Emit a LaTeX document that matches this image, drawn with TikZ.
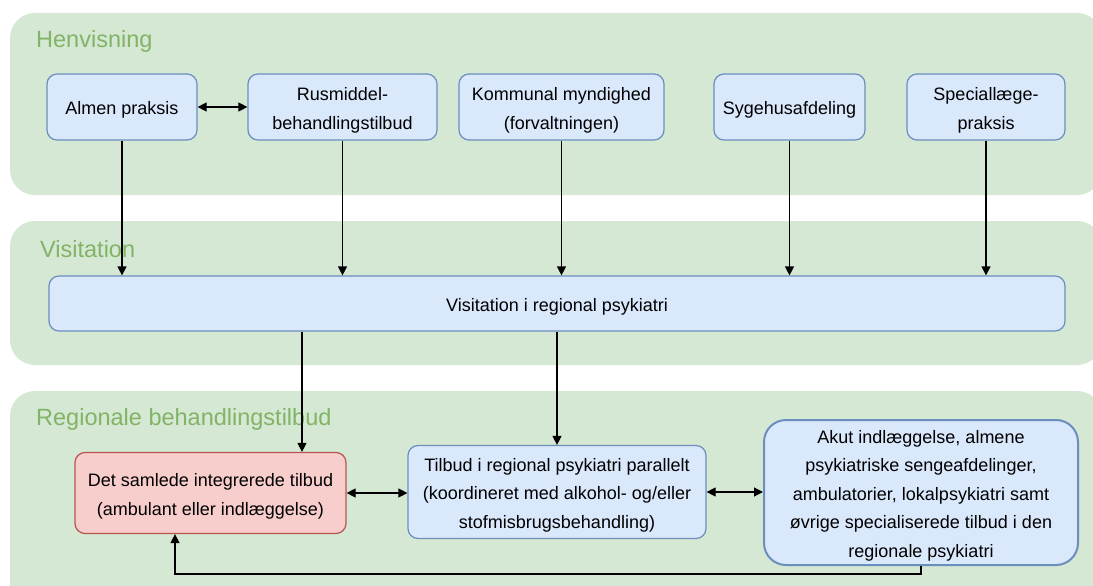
\documentclass[tikz,border=0pt]{standalone}
\usepackage{fontspec}
\setmainfont{Liberation Sans}
\usetikzlibrary{arrows.meta}
\definecolor{panelfill}{HTML}{D5E8D4}
\definecolor{paneltext}{HTML}{82B366}
\definecolor{bluefill}{HTML}{DAE8FC}
\definecolor{bluedraw}{HTML}{6C8EBF}
\definecolor{redfill}{HTML}{F8CECC}
\definecolor{reddraw}{HTML}{B85450}
\newcommand{\tstrut}{\rule{0pt}{20pt}}
\newcommand{\bstrut}{\rule[-4.5pt]{0pt}{4.5pt}}
\begin{document}
\begin{tikzpicture}[x=1pt,y=-1pt,
  panel/.style={fill=panelfill, draw=none, rounded corners=25pt},
  lane/.style={text=paneltext, font=\fontsize{23.5}{28}\selectfont, anchor=base west, inner sep=0pt},
  box/.style={draw=bluedraw, fill=bluefill, rounded corners=10pt, line width=1.2pt, align=center,
    font=\fontsize{18}{28.5}\selectfont, inner sep=0pt, minimum height=66pt},
  redbox/.style={box, draw=reddraw, fill=redfill},
  bigbox/.style={box, rounded corners=22pt, line width=2pt},
  arr/.style={-{Triangle[length=9pt,width=9pt]}, line width=1.2pt},
  darr/.style={{Triangle[length=9pt,width=9pt]}-{Triangle[length=9pt,width=9pt]}, line width=1.2pt}
]
\useasboundingbox (0,0) rectangle (1093,586);
% panels
\fill[panel] (10,13) rectangle (1102,195);
\fill[panel] (10,221) rectangle (1102,365);
\fill[panel] (10,391) rectangle (1102,620);
\node[lane] (lh) at (36,47.5) {Henvisning};
\node[lane] (lv) at (40,257) {Visitation};
\node[lane] (lr) at (36,425) {Regionale behandlingstilbud};
% top row
\node[box, minimum width=150pt] (almen) at (122,107) {\tstrut Almen praksis\bstrut};
\node[box, minimum width=189pt] (rus) at (342.5,107) {\tstrut Rusmiddel-\\behandlingstilbud\bstrut};
\node[box, minimum width=205pt] (kom) at (561.5,107) {\tstrut Kommunal myndighed\\(forvaltningen)\bstrut};
\node[box, minimum width=151pt] (syg) at (789.5,107) {\tstrut Sygehusafdeling\bstrut};
\node[box, minimum width=158pt] (spec) at (986,107) {\tstrut Speciallæge-\\praksis\bstrut};
% visitation
\node[box, minimum width=1016pt, minimum height=55pt] (vis) at (557,303.5) {\tstrut Visitation i regional psykiatri\bstrut};
% bottom row
\node[redbox, minimum width=271pt, minimum height=81pt] (red) at (210.5,493) {\tstrut Det samlede integrerede tilbud\\(ambulant eller indlæggelse)\bstrut};
\node[box, minimum width=298pt, minimum height=93pt] (mid) at (557,492) {\tstrut Tilbud i regional psykiatri parallelt\\(koordineret med alkohol- og/eller\\stofmisbrugsbehandling)\bstrut};
\node[bigbox, minimum width=314pt, minimum height=145pt] (right) at (921,492.5) {\tstrut Akut indlæggelse, almene\\psykiatriske sengeafdelinger,\\ambulatorier, lokalpsykiatri samt\\øvrige specialiserede tilbud i den\\regionale psykiatri\bstrut};
% connectors
\draw[darr] (almen) -- (rus);
\foreach \n in {almen,rus,kom,syg,spec}{
  \draw[arr] (\n.south) -- (vis.north -| \n.south);
}
\draw[arr] (vis.south -| 302,0) -- (red.north -| 302,0);
\draw[arr] (vis.south -| mid.north) -- (mid.north);
\draw[darr] (red.east) -- (mid.west |- red.east);
\draw[darr] (mid.east) -- (right.west |- mid.east);
\coordinate (lr1) at (right.south |- 0,574);
\coordinate (lr2) at (175,574);
\draw[arr] (right.south) -- (lr1) -- (lr2) -- (red.south -| lr2);
\end{tikzpicture}
\end{document}
